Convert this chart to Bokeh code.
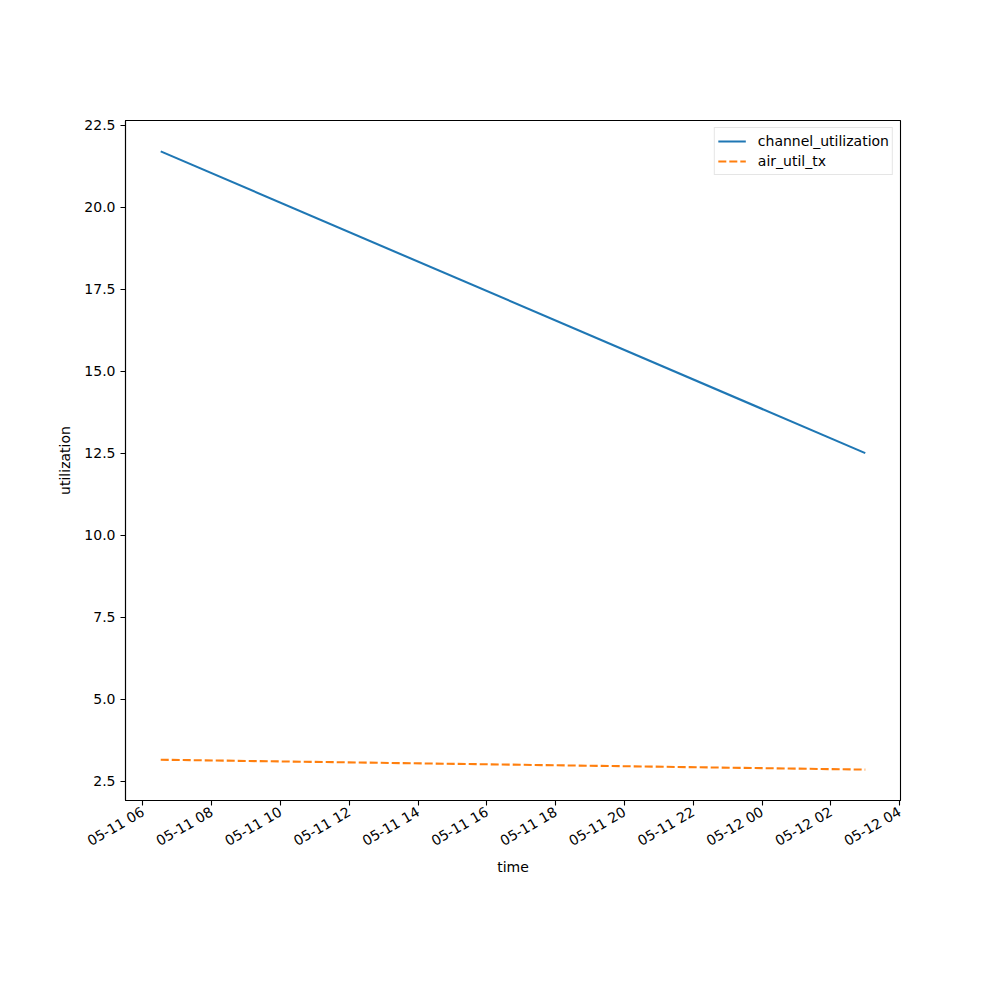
import datetime as dt
from bokeh.plotting import figure
from bokeh.models import (ColumnDataSource, Range1d, FixedTicker, DatetimeTickFormatter,
                          NumeralTickFormatter, Legend, LegendItem)
from bokeh.embed import file_html
from bokeh.resources import INLINE

# ---- data ----
times = ["2024-05-11 06:31", "2024-05-12 03:00"]
channel_utilization = [21.7, 12.5]
air_util_tx = [3.15, 2.85]
y_ticks = [2.5, 5.0, 7.5, 10.0, 12.5, 15.0, 17.5, 20.0, 22.5]
x_tick_start = "2024-05-11 06:00"
x_tick_count = 12
x_tick_step_hours = 2

def to_dt(s):
    return dt.datetime.strptime(s, "%Y-%m-%d %H:%M")

def ms(d):
    return (d - dt.datetime(1970, 1, 1)).total_seconds() * 1000.0

t = [to_dt(s) for s in times]
src = ColumnDataSource(dict(t=t, cu=channel_utilization, at=air_util_tx))

t0, t1 = ms(t[0]), ms(t[-1])
xm = (t1 - t0) * 0.05
ymin = min(min(channel_utilization), min(air_util_tx))
ymax = max(max(channel_utilization), max(air_util_tx))
ym = (ymax - ymin) * 0.05

p = figure(frame_width=775, frame_height=680, width=984, height=984,
           min_border_left=125, min_border_right=84, min_border_top=120, min_border_bottom=184,
           x_axis_type="datetime", x_range=Range1d(t0 - xm, t1 + xm),
           y_range=Range1d(ymin - ym, ymax + ym),
           output_backend="svg", toolbar_location=None)

p.outline_line_color = "black"
p.outline_line_width = 1.1
p.xgrid.visible = False
p.ygrid.visible = False
p.background_fill_color = "white"
p.border_fill_color = "white"

r1 = p.line("t", "cu", source=src, line_color="#1f77b4", line_width=2.1)
r2 = p.line("t", "at", source=src, line_color="#ff7f0e", line_width=2.1, line_dash="8 3")

base = ms(to_dt(x_tick_start))
xticks = [base + i * x_tick_step_hours * 3600 * 1000 for i in range(x_tick_count)]
p.xaxis.ticker = FixedTicker(ticks=xticks)
p.xaxis.formatter = DatetimeTickFormatter(hours="%m-%d %H", days="%m-%d %H", hourmin="%m-%d %H",
                                          minutes="%m-%d %H")
p.xaxis.major_label_orientation = 0.5236
p.yaxis.ticker = FixedTicker(ticks=y_ticks)
p.yaxis.formatter = NumeralTickFormatter(format="0.0")

for ax in (p.xaxis, p.yaxis):
    ax.axis_line_color = "black"
    ax.axis_line_width = 1.1
    ax.major_tick_line_color = "black"
    ax.major_tick_line_width = 1.1
    ax.major_tick_out = 5
    ax.major_tick_in = 0
    ax.minor_tick_line_color = None
    ax.major_label_text_font = "DejaVu Sans"
    ax.major_label_text_font_size = "14px"
    ax.major_label_text_color = "black"
    ax.major_label_standoff = 5
    ax.axis_label_text_font = "DejaVu Sans"
    ax.axis_label_text_font_size = "14px"
    ax.axis_label_text_font_style = "normal"
    ax.axis_label_text_color = "black"

p.xaxis.axis_label = "time"
p.yaxis.axis_label = "utilization"
p.xaxis.axis_label_standoff = 0
p.yaxis.axis_label_standoff = 8

legend = Legend(items=[LegendItem(label="channel_utilization", renderers=[r1]),
                       LegendItem(label="air_util_tx", renderers=[r2])],
                location="top_right", margin=7, padding=3, spacing=0,
                glyph_width=28, glyph_height=20, label_height=20, label_standoff=12,
                border_line_color="#cccccc", border_line_width=1,
                label_text_font="DejaVu Sans", label_text_font_size="14px",
                label_text_color="black",
                background_fill_alpha=0.8)
p.add_layout(legend)

open("out.html", "w").write(file_html(p, INLINE))
